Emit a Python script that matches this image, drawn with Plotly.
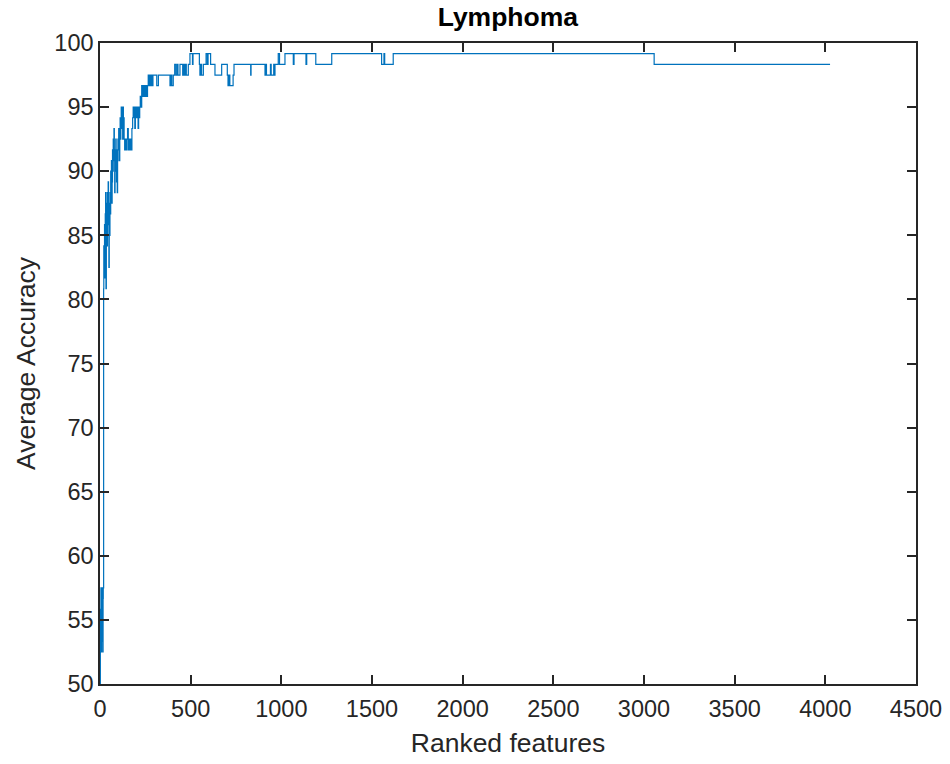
import plotly.graph_objects as go

# Breakpoints of the step curve (feature index where value changes) and accuracy values
features = [1, 2, 3, 4, 5, 6, 7, 8, 9, 10, 11, 12, 13, 14, 15, 16, 17, 18,
            20, 21, 23, 25, 27, 29, 31, 33, 35, 37, 39, 41, 43, 45, 47, 49, 51, 53, 55, 57, 59,
            61, 63, 65, 67, 69, 71, 73, 75, 77, 79, 81, 83, 85, 87, 89, 91, 93, 95, 97, 99,
            101, 103, 105, 107, 109, 111, 113, 115, 117, 119, 121, 123, 125, 127, 129, 131, 133,
            136, 140, 144, 148, 152, 156, 160, 164, 168, 172, 176, 180, 183, 186, 189, 192, 195,
            198, 201, 204, 207, 210, 213, 216, 219, 222, 226, 230, 234, 238, 242, 246, 250, 254,
            258, 262, 266, 270, 274, 278, 282, 286, 292, 313, 322, 386, 392, 396, 404, 412, 419,
            426, 430, 441, 456, 460, 464, 470, 476, 487, 496, 510, 513, 548, 551, 556, 560, 570,
            585, 592, 596, 610, 634, 671, 702, 706, 712, 716, 734, 739, 831, 833, 910, 914, 918,
            940, 944, 958, 962, 965, 983, 990, 1020, 1066, 1070, 1136, 1140, 1190, 1278, 1553,
            1566, 1570, 1617, 3056, 4026]
accuracy = [50.0, 52.5, 55.83, 52.5, 57.5, 53.33, 56.67, 52.5, 55.0, 57.5, 53.33, 56.67, 54.17, 57.5, 55.0, 52.5, 56.67, 57.5,
            80.83, 84.17, 82.5, 85.83, 81.67, 86.67, 88.33, 80.83, 85.0, 87.5, 84.17, 88.33, 86.67, 89.17, 85.83, 82.5, 87.5, 85.0, 88.33, 86.67, 90.0,
            88.33, 90.83, 87.5, 89.17, 91.67, 90.0, 92.5, 90.83, 93.33, 91.67, 88.33, 91.67, 90.0, 92.5, 90.83, 89.17, 91.67, 88.33, 90.83, 92.5,
            91.67, 93.33, 92.5, 90.83, 92.5, 94.17, 92.5, 93.33, 95.0, 93.33, 95.0, 94.17, 92.5, 95.0, 93.33, 94.17, 92.5,
            91.67, 92.5, 91.67, 92.5, 93.33, 91.67, 92.5, 91.67, 92.5, 91.67, 93.33, 94.17, 95.0, 94.17, 95.0, 93.33, 95.0,
            94.17, 95.0, 94.17, 95.0, 93.33, 95.0, 94.17, 95.0, 95.83, 95.0, 96.67, 95.83, 96.67, 95.83, 96.67, 95.83, 96.67,
            95.83, 96.67, 97.5, 96.67, 97.5, 96.67, 97.5, 96.67, 97.5, 96.67, 97.5, 96.67, 97.5, 96.67, 97.5, 98.33, 97.5,
            98.33, 97.5, 98.33, 97.5, 98.33, 97.5, 98.33, 97.5, 98.33, 99.17, 98.33, 99.17, 98.33, 97.5, 98.33, 97.5, 98.33,
            99.17, 98.33, 99.17, 98.33, 97.5, 98.33, 97.5, 96.67, 97.5, 96.67, 97.5, 98.33, 97.5, 98.33, 97.5, 98.33, 97.5,
            98.33, 97.5, 98.33, 97.5, 98.33, 99.17, 98.33, 99.17, 98.33, 99.17, 98.33, 99.17, 98.33, 99.17, 98.33,
            99.17, 98.33, 99.17, 98.33, 98.33]

x_ticks = [0, 500, 1000, 1500, 2000, 2500, 3000, 3500, 4000, 4500]
y_ticks = [50, 55, 60, 65, 70, 75, 80, 85, 90, 95, 100]

AX = "#262626"
FONT = "Liberation Sans, Arial, sans-serif"

fig = go.Figure()
fig.add_trace(go.Scatter(x=features, y=accuracy, mode="lines", line_shape="hv",
                         line=dict(color="#0072BD", width=1.2), showlegend=False))

axis_common = dict(showline=True, linecolor=AX, linewidth=1.5, mirror="ticks",
                   ticks="inside", ticklen=9, tickwidth=1.5, tickcolor=AX,
                   showgrid=False, zeroline=False, automargin=False,
                   tickfont=dict(family=FONT, size=23.5, color=AX))

fig.update_layout(
    width=950, height=764,
    margin=dict(l=100, r=34, t=43, b=80),
    paper_bgcolor="white", plot_bgcolor="white",
    title=dict(text="<b>Lymphoma</b>", x=0.5346, xanchor="center",
               yref="container", y=0.99, yanchor="top",
               font=dict(family=FONT, size=26.5, color="black")),
    xaxis=dict(range=[0, 4500], tickvals=x_ticks, ticktext=[str(v) for v in x_ticks],
               ticklabelstandoff=3,
               title=dict(text="Ranked features", font=dict(family=FONT, size=26.5, color=AX), standoff=12),
               **axis_common),
    yaxis=dict(range=[50, 100], tickvals=y_ticks, ticktext=[str(v) for v in y_ticks],
               title=dict(text="Average Accuracy", font=dict(family=FONT, size=26.5, color=AX), standoff=11),
               **axis_common),
)

fig.write_html("out.html")
